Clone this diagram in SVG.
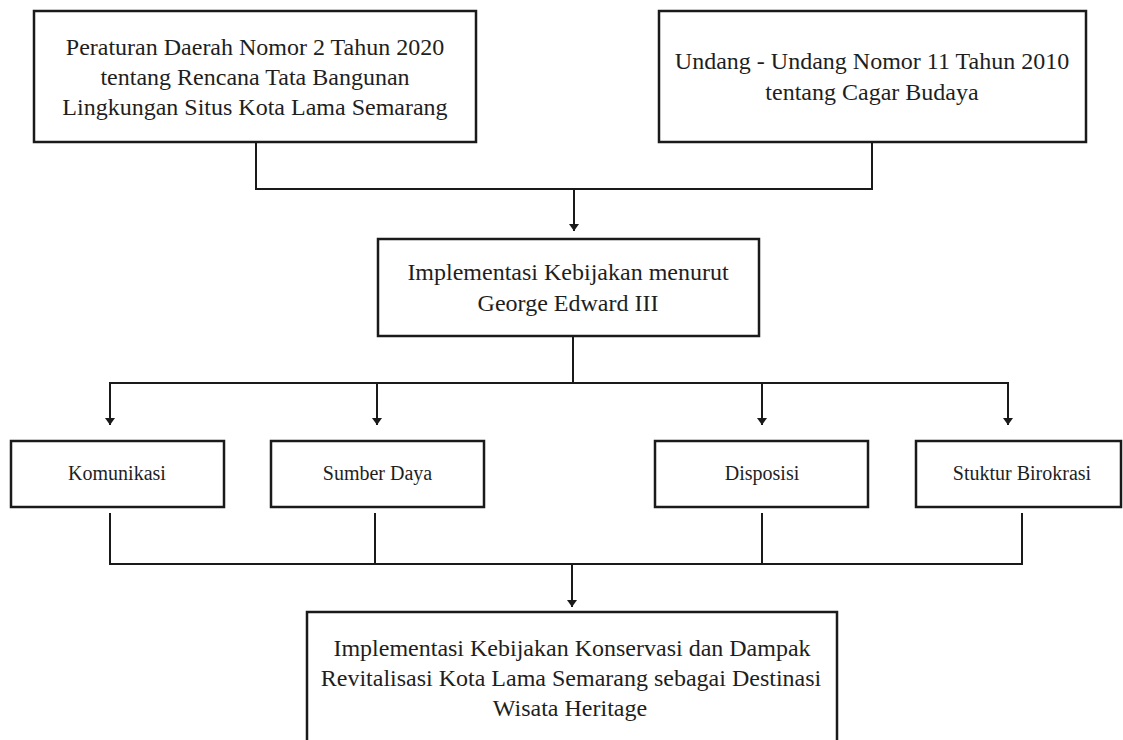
<svg xmlns="http://www.w3.org/2000/svg" width="1123" height="740" viewBox="0 0 1123 740">
<style>
.box{fill:#fff;stroke:#1a1a1a;stroke-width:2.5}
.ln{fill:none;stroke:#1a1a1a;stroke-width:2}
.t{font-family:"Liberation Serif","Times New Roman",serif;font-size:24px;fill:#1e1e1e;text-anchor:middle}
.s{font-size:20px}
</style>
<defs>
<marker id="ah" markerUnits="userSpaceOnUse" markerWidth="12" markerHeight="10" viewBox="0 0 12 10" refX="6" refY="8" orient="0">
<path d="M1,1 L11,1 L6,8 Z" fill="#1a1a1a"/>
</marker>
</defs>
<rect width="1123" height="740" fill="#fff"/>
<g id="connectors">
<path class="ln" d="M256,142 V189 H872 V142"/>
<path class="ln" d="M574,189 V231" marker-end="url(#ah)"/>
<path class="ln" d="M573,336 V383"/>
<path class="ln" d="M110,425 V383 H1008 V425"/>
<path class="ln" d="M110,383 V425" marker-end="url(#ah)"/>
<path class="ln" d="M377,383 V425" marker-end="url(#ah)"/>
<path class="ln" d="M762,383 V425" marker-end="url(#ah)"/>
<path class="ln" d="M1008,383 V425" marker-end="url(#ah)"/>
<path class="ln" d="M110,513 V564 H1022 V513"/>
<path class="ln" d="M375,513 V564"/>
<path class="ln" d="M762,513 V564"/>
<path class="ln" d="M572,564 V607" marker-end="url(#ah)"/>
</g>
<g id="node-perda">
<rect class="box" x="34" y="11" width="442" height="131"/>
<text class="t" x="255" y="54.5">Peraturan Daerah Nomor 2 Tahun 2020</text>
<text class="t" x="255" y="84.5">tentang Rencana Tata Bangunan</text>
<text class="t" x="255" y="114.5">Lingkungan Situs Kota Lama Semarang</text>
</g>
<g id="node-uu">
<rect class="box" x="659" y="11" width="427" height="131"/>
<text class="t" x="872" y="68.5">Undang - Undang Nomor 11 Tahun 2010</text>
<text class="t" x="872" y="100">tentang Cagar Budaya</text>
</g>
<g id="node-edward">
<rect class="box" x="378" y="239" width="381" height="97"/>
<text class="t" x="568" y="280">Implementasi Kebijakan menurut</text>
<text class="t" x="568" y="311">George Edward III</text>
</g>
<g id="node-komunikasi">
<rect class="box" x="11" y="441" width="213" height="66"/>
<text class="t s" x="117" y="480">Komunikasi</text>
</g>
<g id="node-sumber">
<rect class="box" x="271" y="441" width="213" height="66"/>
<text class="t s" x="377.5" y="480">Sumber Daya</text>
</g>
<g id="node-disposisi">
<rect class="box" x="655" y="441" width="213" height="66"/>
<text class="t s" x="762" y="480">Disposisi</text>
</g>
<g id="node-birokrasi">
<rect class="box" x="916" y="441" width="205" height="66"/>
<text class="t s" x="1022" y="480">Stuktur Birokrasi</text>
</g>
<g id="node-hasil">
<rect class="box" x="307" y="612" width="530" height="140"/>
<text class="t" x="572" y="656">Implementasi Kebijakan Konservasi dan Dampak</text>
<text class="t" x="571" y="686">Revitalisasi Kota Lama Semarang sebagai Destinasi</text>
<text class="t" x="570" y="716">Wisata Heritage</text>
</g>
</svg>
